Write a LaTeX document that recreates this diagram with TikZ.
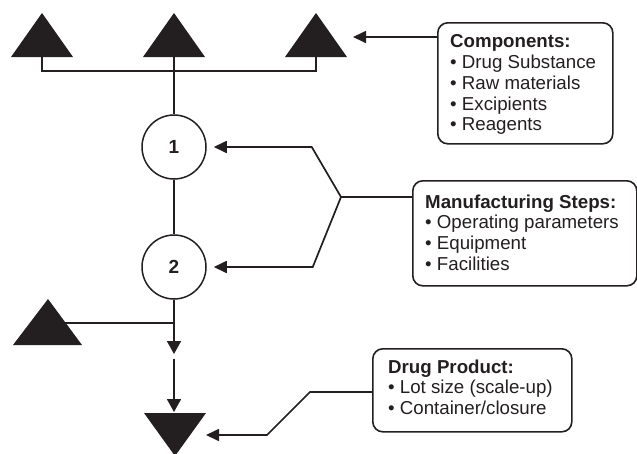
\documentclass[tikz,border=0pt]{standalone}
\usepackage{fontspec}
\setmainfont{Liberation Sans}
\usetikzlibrary{arrows.meta}
\definecolor{ink}{RGB}{35,31,32}
\begin{document}
\begin{tikzpicture}[x=1pt,y=-1pt,
  ln/.style={draw=ink,line width=1.7pt},
  arr/.style={ln,-{Triangle[length=13pt,width=12pt]}},
  sarr/.style={ln,-{Triangle[length=13pt,width=14pt]}},
  stepcircle/.style={circle,draw=ink,line width=1.5pt,minimum size=64pt,inner sep=0pt,text=ink,font=\fontsize{19}{20}\selectfont\bfseries},
  infobox/.style={draw=ink,line width=1.6pt,rounded corners=10pt,inner sep=0pt,anchor=north west},
  infotext/.style={anchor=north west,inner sep=0pt,align=left,text=ink,font=\fontsize{18.7}{20.8}\selectfont}
]
\useasboundingbox (0,0) rectangle (637,453);

% boxes
\node[infobox,minimum width=175pt,minimum height=121pt] (comp) at (437,22) {};
\node[infotext] (compT) at (450,34.4) {\textbf{Components:}\\• Drug Substance\\• Raw materials\\• Excipients\\• Reagents};
\node[infobox,minimum width=224pt,minimum height=105pt] (manu) at (412,180) {};
\node[infotext] (manuT) at (425,194.4) {\textbf{Manufacturing Steps:}\\• Operating parameters\\• Equipment\\• Facilities};
\node[infobox,minimum width=199pt,minimum height=83pt] (dp) at (372,348) {};
\node[infotext] (dpT) at (388,359.4) {\textbf{Drug Product:}\\• Lot size (scale-up)\\• Container/closure};

% circles
\node[stepcircle] (c1) at (174,147) {1};
\node[stepcircle] (c2) at (174,267) {2};

% top triangles
\fill[ink] (11,57) -- (42,13) -- (73,57) -- cycle;
\fill[ink] (143,57) -- (174,13) -- (205,57) -- cycle;
\fill[ink] (285,57) -- (316,13) -- (347,57) -- cycle;
\coordinate (t1) at (42,57);
\coordinate (t2) at (174,57);
\coordinate (t3) at (316,57);
\coordinate (tb) at (42,71);
\draw[ln] (t1) -- (tb) -| (t3);
\draw[ln] (t2) -- (c1.north);
\draw[ln] (c1.south) -- (c2.north);

% left triangle and join
\coordinate (lt) at (48,323);
\coordinate (j) at (174,323);
\draw[ln] (lt) -- (j);
\fill[ink] (13,345) -- (48,299) -- (82,345) -- cycle;
\coordinate (a1) at (174,354);
\draw[sarr] (c2.south) -- (a1);
\coordinate (a2s) at (174,359);
\coordinate (a2) at (174,412);
\draw[sarr] (a2s) -- (a2);
\fill[ink] (144,413) -- (206,413) -- (175,456) -- cycle;

% components arrow
\coordinate (cA) at (353,37);
\draw[arr] (comp.west |- cA) -- (cA);

% manufacturing arrows
\coordinate (mJ) at (341,197);
\draw[ln] (manu.west |- mJ) -- (mJ);
\draw[arr,shorten >=7pt] (mJ) -- ([xshift=105pt]c1.east) -- (c1.east);
\draw[arr,shorten >=7pt] (mJ) -- ([xshift=106pt]c2.east) -- (c2.east);

% drug product arrow
\coordinate (dpL) at (300,392);
\coordinate (dB1) at (310,392);
\coordinate (dB2) at (267,435);
\coordinate (dTip) at (206,435);
\draw[arr] (dp.west |- dpL) -- (dB1) -- (dB2) -- (dTip);
\end{tikzpicture}
\end{document}
